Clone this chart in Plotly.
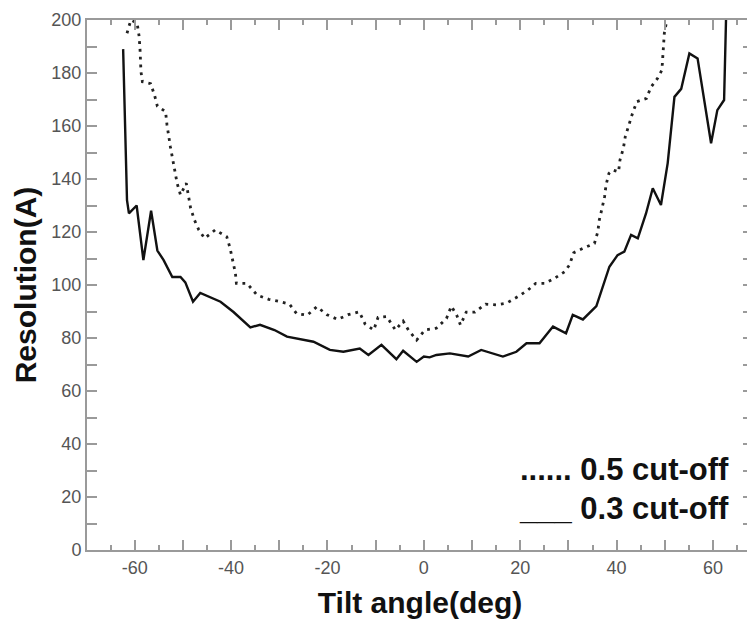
import plotly.graph_objects as go

# 0.3 cut-off (solid)
x_03 = [-62.4, -61.6, -61.2, -59.6, -58.2, -56.6, -55.3, -54.0, -52.2, -50.5, -49.5, -47.9,
        -46.4, -45.0, -42.2, -39.5, -36.0, -34.0, -31.0, -28.4, -25.5, -22.9, -19.5, -16.7,
        -13.3, -11.5, -8.8, -5.7, -4.3, -1.5, 0.0, 1.2, 2.6, 5.4, 9.2, 11.9, 16.4, 19.2,
        21.3, 24.0, 26.8, 29.5, 30.9, 33.0, 35.8, 38.5, 40.2, 41.6, 43.0, 44.4, 46.1, 47.5,
        49.2, 50.6, 52.0, 53.4, 55.1, 56.8, 59.6, 60.9, 62.3, 62.7]
y_03 = [189.0, 132.0, 127.0, 130.0, 109.4, 128.0, 113.0, 109.4, 103.0, 103.0, 101.0, 93.7,
        97.0, 96.0, 93.7, 89.8, 84.0, 85.0, 83.0, 80.5, 79.5, 78.6, 75.5, 74.8,
        76.0, 73.6, 77.4, 72.0, 75.2, 71.0, 73.0, 72.7, 73.6, 74.2, 73.0, 75.5, 73.0, 74.8,
        78.0, 78.0, 84.3, 81.8, 88.7, 87.0, 92.0, 106.9, 111.3, 112.6, 118.9, 117.6, 127.0, 136.5,
        130.2, 146.0, 171.0, 174.0, 187.4, 185.5, 153.5, 166.0, 169.8, 200.0]

# 0.5 cut-off (dotted)
x_05 = [-61.6, -60.8, -59.5, -59.1, -58.9, -58.7, -58.4, -56.7, -55.9, -55.3, -53.6, -53.3,
        -52.6, -52.1, -51.6, -51.2, -50.5, -49.3, -48.4, -47.6, -46.7, -45.5, -43.3, -40.9,
        -40.2, -39.6, -39.1, -38.9, -36.7, -34.6, -32.2, -29.8, -27.9, -26.4, -24.2, -22.2,
        -20.1, -17.9, -15.7, -13.4, -12.2, -10.4, -9.5, -7.7, -5.9, -4.3, -3.2, -1.5,
        0.2, 2.6, 4.7, 5.7, 6.8, 7.6, 8.8, 10.6, 12.8, 15.0, 17.2, 19.5, 21.6, 23.2,
        25.1, 27.1, 29.2, 30.2, 31.1, 33.0, 35.4, 36.1, 36.4, 36.9, 37.5, 37.8, 38.4,
        39.2, 40.4, 40.7, 41.4, 41.8, 42.5, 43.3, 44.2, 46.2, 47.1, 48.5, 49.4, 49.6,
        49.7, 49.9, 50.3]
y_05 = [195.0, 200.0, 198.8, 194.0, 189.0, 180.5, 176.7, 176.0, 171.7, 167.5, 165.4, 160.4,
        152.2, 147.2, 142.1, 138.4, 134.0, 138.4, 129.0, 124.5, 120.8, 117.6, 120.8, 118.2,
        113.8, 108.2, 104.4, 100.6, 100.6, 96.2, 94.6, 93.7, 92.8, 89.2, 88.6, 91.8,
        88.8, 87.0, 88.8, 89.9, 85.3, 83.0, 87.8, 88.1, 83.0, 86.4, 83.0, 79.2,
        83.0, 83.7, 87.4, 92.0, 88.7, 84.9, 89.8, 89.8, 92.8, 92.5, 93.2, 95.6, 98.1, 100.6,
        100.6, 102.5, 105.0, 107.5, 112.2, 113.8, 115.7, 120.1, 124.5, 128.3, 133.3, 137.7, 142.1,
        143.4, 142.7, 147.2, 151.6, 156.0, 160.4, 164.8, 169.2, 170.4, 174.6, 178.0, 181.1, 185.5,
        190.6, 195.0, 198.8]

legend_labels = ["...... 0.5 cut-off", "___ 0.3 cut-off"]

x_tickvals = list(range(-70, 71, 10))
x_ticktext = [str(v) if v % 20 == 0 else "" for v in x_tickvals]
y_tickvals = list(range(0, 201, 10))
y_ticktext = [str(v) if v % 20 == 0 else "" for v in y_tickvals]

fig = go.Figure()
fig.add_trace(go.Scatter(x=x_05, y=y_05, mode="lines", name="0.5 cut-off",
                         line=dict(color="#222222", width=2.8, dash="2.8px,5px"),
                         showlegend=False, cliponaxis=True))
fig.add_trace(go.Scatter(x=x_03, y=y_03, mode="lines", name="0.3 cut-off",
                         line=dict(color="#111111", width=2.4),
                         showlegend=False, cliponaxis=True))

axis_common = dict(
    showgrid=False, zeroline=False, showline=True, linecolor="#9a9a9a", linewidth=2,
    ticks="inside", tickcolor="#9a9a9a", tickwidth=1.5, ticklen=10, mirror="ticks",
    automargin=False,
    tickfont=dict(family="Liberation Sans, Arial, sans-serif", size=18, color="#555555"),
)

fig.update_xaxes(
    range=[-69.9, 68.3], tickmode="array", tickvals=x_tickvals, ticktext=x_ticktext,
    minor=dict(dtick=5, ticks="inside", ticklen=5, tickcolor="#9a9a9a", tickwidth=1.5),
    title=dict(text="<b>Tilt angle(deg)</b>", standoff=15,
               font=dict(family="Liberation Sans, Arial, sans-serif", size=30, color="#111111")),
    **axis_common,
)
fig.update_yaxes(
    range=[0, 200], tickmode="array", tickvals=y_tickvals, ticktext=y_ticktext,
    title=dict(text="<b>Resolution(A)</b>", standoff=6,
               font=dict(family="Liberation Sans, Arial, sans-serif", size=30, color="#111111")),
    **axis_common,
)

for i, lab in enumerate(legend_labels):
    fig.add_annotation(text="<b>" + lab + "</b>", xref="paper", yref="paper",
                       x=0.967, y=[0.151, 0.079][i], xanchor="right", yanchor="middle",
                       showarrow=False,
                       font=dict(family="Liberation Sans, Arial, sans-serif", size=31, color="#111111"))

# the page body adds an 8px offset, so margins are shifted to compensate
fig.update_layout(
    width=755, height=620,
    margin=dict(l=79, r=10, t=12, b=78),
    paper_bgcolor="white", plot_bgcolor="white",
    showlegend=False,
)

fig.write_html("out.html")
